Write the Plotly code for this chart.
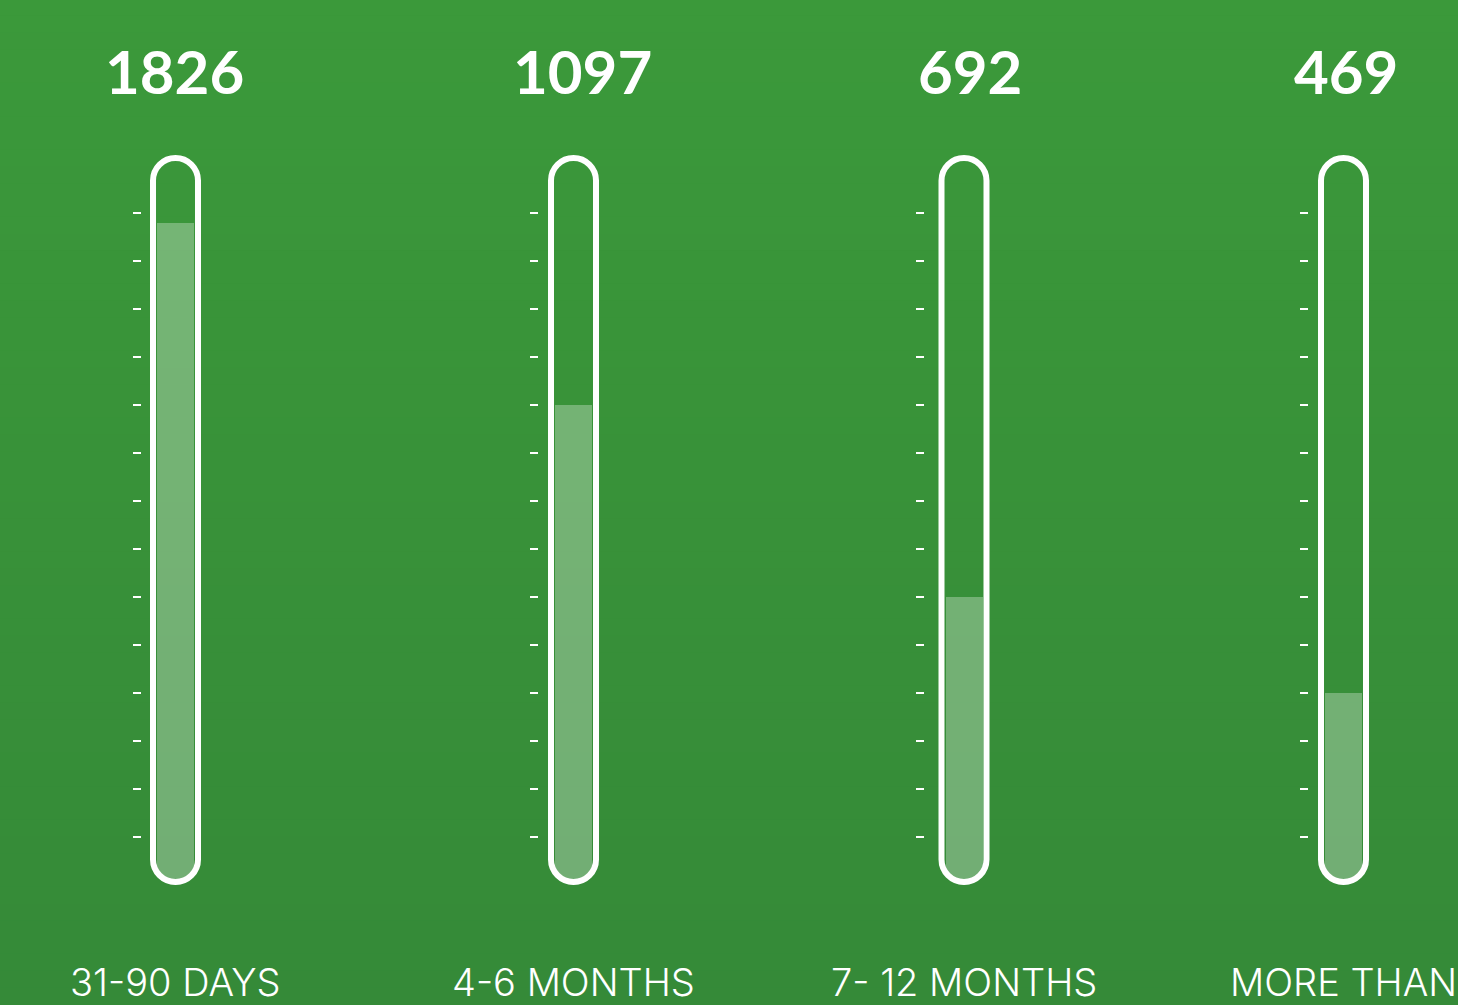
import plotly.graph_objects as go

# ---------------- data ----------------
categories = ["31-90 DAYS", "4-6 MONTHS", "7- 12 MONTHS", "MORE THAN"]
counts = [1826, 1097, 692, 469]
fill_levels = [13.8, 10, 6, 4]          # gauge fill height, in tick steps
tick_values = list(range(1, 15))        # tick marks beside each gauge

# ---------------- layout constants ----------------
W, H = 1458, 1005
PX_PER_UNIT = 48
ZERO_PX = 885                           # pixel row (from top) of level 0
centers_px = [175.5, 573.5, 964, 1343.5]
number_centers_px = [174, 582, 970, 1346]
tick_gaps = [33.5, 34.5, 39, 34.5]      # tube centre -> tick mark end, px
y_range = [(ZERO_PX - H) / PX_PER_UNIT, ZERO_PX / PX_PER_UNIT]

FILL = "rgba(255,255,255,0.30)"
TOP_RGB = (59, 153, 58)
BOT_RGB = (53, 138, 56)
MASK = "rgb(54,140,56)"                 # background colour near the tube bottoms

fig = go.Figure()
layout = {}
shapes = []
annotations = []

# background gradient (style only)
N = 60
for k in range(N):
    t = k / (N - 1)
    col = tuple(round(TOP_RGB[j] + (BOT_RGB[j] - TOP_RGB[j]) * t) for j in range(3))
    shapes.append(dict(type="rect", xref="paper", yref="paper", x0=0, x1=1,
                       y0=1 - (k + 1) / N, y1=1 - k / N + 0.001,
                       fillcolor="rgb(%d,%d,%d)" % col, line_width=0, layer="below"))

k_c = 0.5523
w = 22.5                                  # stroke centre half-width, px
v_top = (ZERO_PX - 158) / PX_PER_UNIT
v_bot = 3 / PX_PER_UNIT
ry = 22.5 / PX_PER_UNIT
FILL_W = 37
hw = FILL_W / 2
ryf = hw / PX_PER_UNIT

for i, (cat, cnt, lvl) in enumerate(zip(categories, counts, fill_levels)):
    sfx = "" if i == 0 else str(i + 1)
    xref, yref = "x" + sfx, "y" + sfx
    c, g = centers_px[i], tick_gaps[i]

    fig.add_trace(go.Bar(
        x=[0], y=[lvl], width=FILL_W,
        marker=dict(color=FILL, line_width=0),
        xaxis=xref, yaxis=yref, hoverinfo="skip", showlegend=False))

    layout["xaxis" + sfx] = dict(domain=[(c - g) / W, (c + g) / W], range=[-g, g],
                                 visible=False, anchor=yref, fixedrange=True)
    layout["yaxis" + sfx] = dict(domain=[0, 1], range=y_range, anchor=xref,
                                 tickvals=tick_values, ticks="outside", ticklen=8,
                                 tickwidth=2, tickcolor="white", showticklabels=False,
                                 showgrid=False, zeroline=False, showline=False,
                                 fixedrange=True)

    # round off the bottom corners of the fill (bulb of the tube)
    for s in (-1, 1):
        shapes.append(dict(
            type="path", xref=xref, yref=yref, layer="above", line_width=0,
            fillcolor=MASK,
            path=(f"M {s * (hw + 1)},-0.05 L {s * (hw + 1)},{ryf} L {s * hw},{ryf} "
                  f"C {s * hw},{ryf - k_c * ryf} {s * k_c * hw},0 0,0 "
                  f"L 0,-0.05 Z")))

    # tube outline
    a, b = v_top - ry, v_bot + ry
    path = (f"M {-w},{b} L {-w},{a} "
            f"C {-w},{a + k_c * ry} {-k_c * w},{v_top} 0,{v_top} "
            f"C {k_c * w},{v_top} {w},{a + k_c * ry} {w},{a} "
            f"L {w},{b} "
            f"C {w},{b - k_c * ry} {k_c * w},{v_bot} 0,{v_bot} "
            f"C {-k_c * w},{v_bot} {-w},{b - k_c * ry} {-w},{b} Z")
    shapes.append(dict(type="path", xref=xref, yref=yref, path=path,
                       line=dict(color="white", width=6),
                       fillcolor="rgba(0,0,0,0)", layer="above"))

    annotations.append(dict(x=number_centers_px[i] / W, xref="paper",
                            y=1 - 71.5 / H, yref="paper",
                            text=str(cnt), showarrow=False, xanchor="center",
                            yanchor="middle",
                            font=dict(family="Lato", size=60, color="white", weight=700)))
    annotations.append(dict(x=0, xref=xref, y=1 - 982 / H, yref="paper",
                            text=cat, showarrow=False, xanchor="center",
                            yanchor="middle",
                            font=dict(family="Inter", size=38, color="white", weight=300)))

fig.update_layout(
    width=W, height=H, margin=dict(l=0, r=0, t=0, b=0),
    paper_bgcolor="rgb(56,146,57)", plot_bgcolor="rgba(0,0,0,0)",
    shapes=shapes, annotations=annotations, showlegend=False, bargap=0,
    **layout)

fig.write_html("out.html", config={"displayModeBar": False},
               post_script="document.body.style.margin='0';"
                           "document.documentElement.style.overflow='hidden';")
